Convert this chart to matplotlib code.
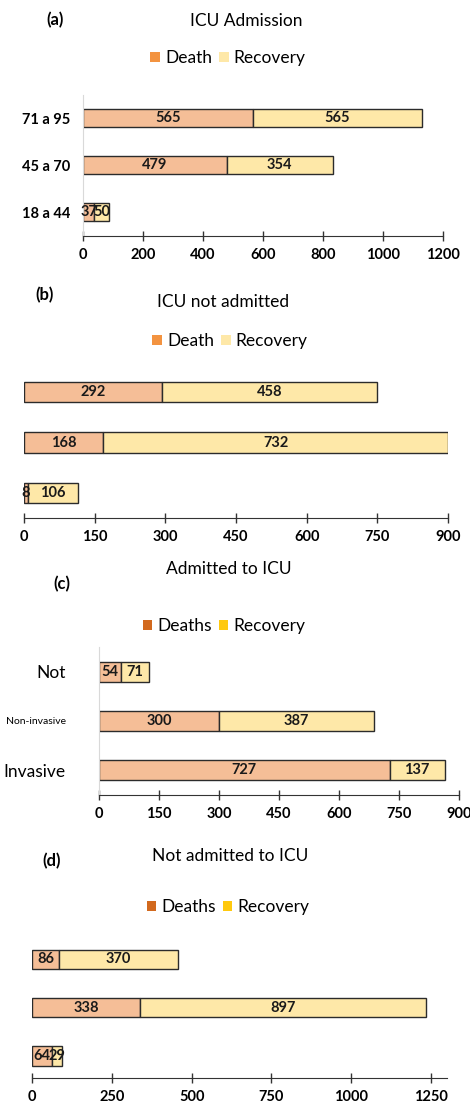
import matplotlib.pyplot as plt
from matplotlib.patches import Patch

plt.rcParams['font.family'] = ['Lato', 'DejaVu Sans']

# panel (a) ICU admission by age group
age_groups = ['18 a 44', '45 a 70', '71 a 95']
icu_death = [37, 479, 565]
icu_recovery = [50, 354, 565]

# panel (b) ICU not admitted by age group
noicu_death = [8, 168, 292]
noicu_recovery = [106, 732, 458]

# panel (c) admitted to ICU by ventilation
vent_groups = ['Invasive', 'Non-invasive', 'Not']
adm_death = [727, 300, 54]
adm_recovery = [137, 387, 71]

# panel (d) not admitted to ICU by ventilation
notadm_death = [64, 338, 86]
notadm_recovery = [29, 897, 370]

W, H = 470, 1106
fig = plt.figure(figsize=(W / 100, H / 100), dpi=100)

death_fill = '#F5BE97'
rec_fill = '#FEE8A8'


def px_axes(x0, x1, y_top, y_bot):
    return fig.add_axes([x0 / W, 1 - y_bot / H, (x1 - x0) / W, (y_bot - y_top) / H])


def draw_panel(ax, death, recovery, xmax, ticks, ylim, left_line):
    y = list(range(len(death)))
    ax.barh(y, death, height=0.4, color=death_fill, edgecolor='#2b2b2b', linewidth=1)
    ax.barh(y, recovery, left=death, height=0.4, color=rec_fill, edgecolor='#2b2b2b', linewidth=1)
    for i in y:
        ax.text(death[i] / 2, i, str(death[i]), ha='center', va='center',
                fontsize=10.5, fontweight='bold', color='#1a1a1a')
        ax.text(death[i] + recovery[i] / 2, i, str(recovery[i]), ha='center', va='center',
                fontsize=10.5, fontweight='bold', color='#1a1a1a')
    ax.set_xlim(0, xmax)
    ax.set_ylim(*ylim)
    ax.set_xticks(ticks)
    ax.set_xticklabels([str(t) for t in ticks], fontsize=10.5, fontweight='bold')
    ax.tick_params(axis='x', direction='inout', length=7, width=1, color='#333333', pad=5)
    for s in ['top', 'right']:
        ax.spines[s].set_visible(False)
    ax.spines['bottom'].set_color('#333333')
    if left_line:
        ax.spines['left'].set_color('#d9d9d9')
    else:
        ax.spines['left'].set_visible(False)
    ax.set_facecolor('none')


def add_legend(labels, colors, xc, yc):
    handles = [Patch(facecolor=c, edgecolor='none') for c in colors]
    fig.legend(handles, labels, loc='center', bbox_to_anchor=(xc / W, 1 - yc / H),
               ncol=2, frameon=False, fontsize=12.5, handlelength=0.55, handleheight=0.55,
               handletextpad=0.3, columnspacing=0.4, borderpad=0)


# (a)
ax1 = px_axes(83, 443, 95, 236)
draw_panel(ax1, icu_death, icu_recovery, 1200, [0, 200, 400, 600, 800, 1000, 1200],
           (-0.51, 2.49), True)
ax1.set_yticks([0, 1, 2])
ax1.set_yticklabels(age_groups, fontsize=10.5, fontweight='bold')
ax1.tick_params(axis='y', length=0, pad=9)
fig.text(55 / W, 1 - 20 / H, '(a)', fontsize=12, fontweight='bold', ha='center', va='center')
fig.text(246 / W, 1 - 21 / H, 'ICU Admission', fontsize=12.5, ha='center', va='center')
add_legend(['Death', 'Recovery'], ['#F39340', '#FEE8A8'], 228, 58)

# (b)
ax2 = px_axes(24, 448, 367, 518)
draw_panel(ax2, noicu_death, noicu_recovery, 900, [0, 150, 300, 450, 600, 750, 900],
           (-0.5, 2.5), False)
ax2.set_yticks([])
fig.text(45 / W, 1 - 295 / H, '(b)', fontsize=12, fontweight='bold', ha='center', va='center')
fig.text(223 / W, 1 - 302 / H, 'ICU not admitted', fontsize=12.5, ha='center', va='center')
add_legend(['Death', 'Recovery'], ['#F39340', '#FEE8A8'], 230, 341)

# (c)
ax3 = px_axes(99, 459, 647, 795)
draw_panel(ax3, adm_death, adm_recovery, 900, [0, 150, 300, 450, 600, 750, 900],
           (-0.51, 2.51), True)
ax3.set_yticks([0, 1, 2])
ax3.set_yticklabels(vent_groups)
for lab, fs in zip(ax3.get_yticklabels(), [12.5, 7.5, 12.5]):
    lab.set_fontsize(fs)
ax3.tick_params(axis='y', length=0, pad=24)
fig.text(62 / W, 1 - 584 / H, '(c)', fontsize=12, fontweight='bold', ha='center', va='center')
fig.text(229 / W, 1 - 569 / H, 'Admitted to ICU', fontsize=12.5, ha='center', va='center')
add_legend(['Deaths', 'Recovery'], ['#D2691E', '#FFC90E'], 224, 626)

# (d)
ax4 = px_axes(32, 447, 935, 1078)
draw_panel(ax4, notadm_death, notadm_recovery, 1300, [0, 250, 500, 750, 1000, 1250],
           (-0.45, 2.5), False)
ax4.set_yticks([])
fig.text(52 / W, 1 - 861 / H, '(d)', fontsize=12, fontweight='bold', ha='center', va='center')
fig.text(230 / W, 1 - 856 / H, 'Not admitted to ICU', fontsize=12.5, ha='center', va='center')
add_legend(['Deaths', 'Recovery'], ['#D2691E', '#FFC90E'], 228, 907)

fig.savefig('out.png', dpi=100)
